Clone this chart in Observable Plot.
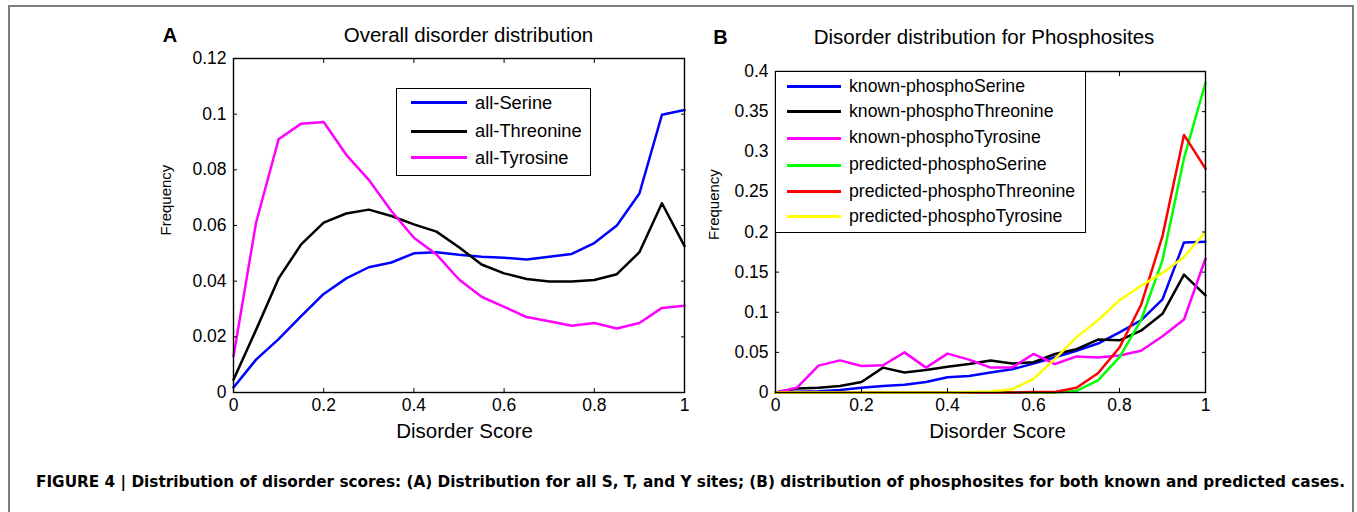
<!DOCTYPE html>
<html>
<head>
<meta charset="utf-8">
<script src="https://cdn.jsdelivr.net/npm/d3@7"></script>
<script src="https://cdn.jsdelivr.net/npm/@observablehq/plot@0.6"></script>
<style>
  body { margin: 0; background: #fff; }
  #fig { position: relative; width: 1357px; height: 512px; overflow: hidden; background: #fff;
         font-family: "Liberation Sans", Arial, Helvetica, sans-serif; color: #000; }
  .panel { position: absolute; top: 0; }
  #border { position: absolute; left: 8px; top: 5px; width: 1346px; height: 540px;
            border: 2px solid #7d7d7d; box-sizing: border-box; z-index: 5; pointer-events: none; }
  .legend { position: absolute; background: #fff; border: 1.4px solid #000; box-sizing: border-box; z-index: 3; }
  .legend .ln { position: absolute; height: 3px; }
  .legend .lb { position: absolute; line-height: 1; transform: translateY(-50%); white-space: nowrap; }
  #caption { position: absolute; left: 0; top: 468px; z-index: 4; }
</style>
</head>
<body>
<div id="fig">
  <div id="border"></div>
</div>
<script>
// ---------- data ----------
const disorderScore = [0, 0.05, 0.1, 0.15, 0.2, 0.25, 0.3, 0.35, 0.4, 0.45, 0.5,
                       0.55, 0.6, 0.65, 0.7, 0.75, 0.8, 0.85, 0.9, 0.95, 1];

// Panel A: overall disorder distribution
const allSerine    = [0.0018, 0.0118, 0.0192, 0.0274, 0.0354, 0.0410, 0.0450, 0.0467, 0.0500, 0.0504, 0.0495,
                      0.0488, 0.0484, 0.0478, 0.0488, 0.0498, 0.0537, 0.0600, 0.0715, 0.0998, 0.1015];
const allThreonine = [0.0046, 0.0225, 0.0410, 0.0532, 0.0610, 0.0643, 0.0657, 0.0634, 0.0604, 0.0578, 0.0522,
                      0.0460, 0.0428, 0.0408, 0.0399, 0.0399, 0.0404, 0.0425, 0.0504, 0.0680, 0.0526];
const allTyrosine  = [0.0130, 0.0610, 0.0910, 0.0966, 0.0972, 0.0854, 0.0764, 0.0652, 0.0556, 0.0496, 0.0406,
                      0.0344, 0.0308, 0.0271, 0.0256, 0.0240, 0.0250, 0.0230, 0.0250, 0.0304, 0.0312];

// Panel B: disorder distribution for phosphosites
const knownPhosphoSerine        = [0, 0.001, 0.0015, 0.003, 0.006, 0.008, 0.0096, 0.013, 0.019, 0.0205, 0.025,
                                   0.029, 0.036, 0.044, 0.052, 0.061, 0.075, 0.090, 0.116, 0.187, 0.188];
const knownPhosphoThreonine     = [0, 0.005, 0.006, 0.008, 0.013, 0.031, 0.025, 0.028, 0.032, 0.0355, 0.040,
                                   0.036, 0.0377, 0.048, 0.054, 0.066, 0.065, 0.077, 0.098, 0.147, 0.121];
const knownPhosphoTyrosine      = [0, 0.006, 0.0335, 0.040, 0.033, 0.034, 0.050, 0.031, 0.0485, 0.041, 0.031,
                                   0.031, 0.048, 0.0355, 0.045, 0.0435, 0.046, 0.052, 0.070, 0.091, 0.167];
const predictedPhosphoSerine    = [0, 0, 0, 0, 0, 0, 0, 0, 0, 0, 0,
                                   0, 0, 0, 0.002, 0.015, 0.044, 0.090, 0.165, 0.292, 0.386];
const predictedPhosphoThreonine = [0, 0, 0, 0, 0, 0, 0, 0, 0, 0, 0,
                                   0, 0.0005, 0.0005, 0.006, 0.024, 0.056, 0.109, 0.195, 0.321, 0.279];
const predictedPhosphoTyrosine  = [0, 0, 0, 0, 0, 0, 0, 0, 0, 0.0005, 0.0013,
                                   0.004, 0.017, 0.042, 0.069, 0.090, 0.115, 0.133, 0.149, 0.169, 0.200];

const seriesA = ["all-Serine", "all-Threonine", "all-Tyrosine"];
const valuesA = [allSerine, allThreonine, allTyrosine];
const colorsA = ["#0000ff", "#000000", "#ff00ff"];

const seriesB = ["known-phosphoSerine", "known-phosphoThreonine", "known-phosphoTyrosine",
                 "predicted-phosphoSerine", "predicted-phosphoThreonine", "predicted-phosphoTyrosine"];
const valuesB = [knownPhosphoSerine, knownPhosphoThreonine, knownPhosphoTyrosine,
                 predictedPhosphoSerine, predictedPhosphoThreonine, predictedPhosphoTyrosine];
const colorsB = ["#0000ff", "#000000", "#ff00ff", "#00ff00", "#ff0000", "#ffff00"];

const xTicks  = [0, 0.2, 0.4, 0.6, 0.8, 1];
const yTicksA = [0, 0.02, 0.04, 0.06, 0.08, 0.1, 0.12];
const yTicksB = [0, 0.05, 0.1, 0.15, 0.2, 0.25, 0.3, 0.35, 0.4];

const titleA = "Overall disorder distribution";
const titleB = "Disorder distribution for Phosphosites";
const xLabel = "Disorder Score";
const yLabel = "Frequency";
const captionText = "FIGURE 4 | Distribution of disorder scores: (A) Distribution for all S, T, and Y sites; (B) distribution of phosphosites for both known and predicted cases.";

// ---------- drawing ----------
const fmt = d => String(+d.toFixed(4));
const FONT = '"Liberation Sans", Arial, Helvetica, sans-serif';

function makePanel(cfg) {
  const rows = [];
  cfg.series.forEach((name, i) => {
    cfg.values[i].forEach((v, j) => rows.push({series: name, x: disorderScore[j], y: v}));
  });
  const marks = cfg.series.map(name =>
    Plot.line(rows.filter(r => r.series === name),
      {x: "x", y: "y", stroke: "series", strokeWidth: 2.5, strokeLinejoin: "round"}));
  marks.push(
    Plot.frame({stroke: "#000", strokeWidth: 1.4}),
    Plot.axisX({ticks: xTicks, tickSize: -4, tickPadding: 10, tickFormat: fmt, fontSize: 17.5, label: null}),
    Plot.axisX({anchor: "top", ticks: xTicks, tickSize: -4, tickFormat: () => "", label: null}),
    Plot.axisY({ticks: cfg.yTicks, tickSize: -4, tickPadding: 11, tickFormat: fmt, fontSize: 17.5, label: null}),
    Plot.axisY({anchor: "right", ticks: cfg.yTicks, tickSize: -4, tickFormat: () => "", label: null}),
    Plot.text([cfg.title], {frameAnchor: "top", lineAnchor: "middle", dx: cfg.titleDx, dy: cfg.titleDy,
                            fontSize: 20.5, text: d => d}),
    Plot.text([cfg.letter], {frameAnchor: "top-left", lineAnchor: "middle", textAnchor: "middle",
                             dx: cfg.letterDx, dy: cfg.titleDy, fontSize: 20, fontWeight: "bold", text: d => d}),
    Plot.text([xLabel], {frameAnchor: "bottom", lineAnchor: "middle", dx: cfg.xlabDx, dy: 39,
                         fontSize: 20.5, text: d => d}),
    Plot.text([yLabel], {frameAnchor: "left", lineAnchor: "middle", dx: cfg.ylabDx, dy: cfg.ylabDy,
                         rotate: -90, fontSize: 15, text: d => d})
  );
  return Plot.plot({
    width: cfg.width, height: 460,
    marginLeft: cfg.ml, marginRight: cfg.mr, marginTop: cfg.mt, marginBottom: 68,
    style: {fontFamily: FONT, color: "#000", background: "transparent", overflow: "visible"},
    x: {domain: [0, 1]},
    y: {domain: cfg.yDomain},
    color: {domain: cfg.series, range: cfg.colors},
    marks
  });
}

const fig = document.getElementById("fig");

const plotA = makePanel({
  width: 700, ml: 233, mr: 16, mt: 58, yDomain: [0, 0.12], yTicks: yTicksA,
  series: seriesA, values: valuesA, colors: colorsA,
  title: titleA, letter: "A", titleDx: 9.5, titleDy: -23, letterDx: -63.5,
  xlabDx: 5.5, ylabDx: -67, ylabDy: 10
});
plotA.classList.add("panel");
plotA.style.left = "0px";
fig.appendChild(plotA);

const plotB = makePanel({
  width: 657, ml: 75, mr: 152, mt: 71, yDomain: [0, 0.4], yTicks: yTicksB,
  series: seriesB, values: valuesB, colors: colorsB,
  title: titleB, letter: "B", titleDx: -6.5, titleDy: -34, letterDx: -55,
  xlabDx: 7, ylabDx: -61, ylabDy: 8
});
plotB.classList.add("panel");
plotB.style.left = "700px";
fig.appendChild(plotB);

// legends
function makeLegend(names, colors, box, rowYs, lineX0, lineX1, textX, fontSize) {
  const lg = document.createElement("div");
  lg.className = "legend";
  Object.assign(lg.style, {left: box.left + "px", top: box.top + "px", width: box.width + "px", height: box.height + "px"});
  names.forEach((name, i) => {
    const ln = document.createElement("div");
    ln.className = "ln";
    Object.assign(ln.style, {left: lineX0 + "px", width: (lineX1 - lineX0) + "px", top: (rowYs[i] - 1.5) + "px", background: colors[i]});
    const lb = document.createElement("div");
    lb.className = "lb";
    lb.textContent = name;
    Object.assign(lb.style, {left: textX + "px", top: rowYs[i] + "px", fontSize: fontSize + "px"});
    lg.appendChild(ln);
    lg.appendChild(lb);
  });
  fig.appendChild(lg);
}
makeLegend(seriesA, colorsA, {left: 396, top: 88, width: 195, height: 88}, [13.7, 42, 68.7], 14, 70, 78, 18.3);
makeLegend(seriesB, colorsB, {left: 775, top: 71, width: 311, height: 162}, [14.7, 39.7, 66.3, 93, 119.7, 144.7], 11, 65, 73, 17.7);

// caption
const ns = "http://www.w3.org/2000/svg";
const cap = document.createElementNS(ns, "svg");
cap.setAttribute("id", "caption");
cap.setAttribute("width", 1357);
cap.setAttribute("height", 30);
const t = document.createElementNS(ns, "text");
t.setAttribute("x", 36);
t.setAttribute("y", 18.5);
t.setAttribute("textLength", 1309);
t.setAttribute("lengthAdjust", "spacingAndGlyphs");
t.setAttribute("font-family", '"Liberation Sans Narrow", "DejaVu Sans Condensed", Arial, sans-serif');
t.setAttribute("font-weight", "bold");
t.setAttribute("font-size", "16");
t.textContent = captionText;
cap.appendChild(t);
fig.appendChild(cap);
</script>
</body>
</html>
